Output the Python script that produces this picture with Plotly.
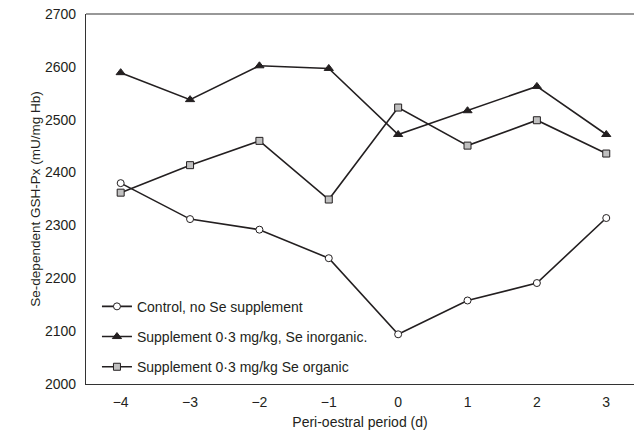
import plotly.graph_objects as go

days = [-4, -3, -2, -1, 0, 1, 2, 3]
control = [2380, 2312, 2292, 2238, 2094, 2158, 2191, 2314]
inorganic = [2589, 2538, 2602, 2597, 2472, 2517, 2563, 2472]
organic = [2362, 2414, 2460, 2349, 2523, 2451, 2499, 2436]

names = ["Control, no Se supplement",
         "Supplement 0·3 mg/kg, Se inorganic.",
         "Supplement 0·3 mg/kg Se organic"]
tick_text = ["\u22124", "\u22123", "\u22122", "\u22121", "0", "1", "2", "3"]
y_ticks = [2000, 2100, 2200, 2300, 2400, 2500, 2600, 2700]

line_col = "#231f20"
fig = go.Figure()
fig.add_trace(go.Scatter(x=days, y=control, name=names[0], mode="lines+markers",
                         legendgroup="a",
                         line=dict(color=line_col, width=1.6),
                         marker=dict(symbol="circle", size=7, color="white",
                                     line=dict(color=line_col, width=1))))
fig.add_trace(go.Scatter(x=days, y=inorganic, name=names[1], mode="lines+markers",
                         legendgroup="b",
                         line=dict(color=line_col, width=1.6),
                         marker=dict(symbol="triangle-up", size=8, color=line_col,
                                     line=dict(color=line_col, width=1))))
fig.add_trace(go.Scatter(x=days, y=organic, name=names[2], mode="lines+markers",
                         legendgroup="c",
                         line=dict(color=line_col, width=1.6),
                         marker=dict(symbol="square", size=7, color="#c0c0c0",
                                     line=dict(color=line_col, width=1))))

fig.update_layout(
    width=635, height=436,
    margin=dict(l=86, r=1, t=14, b=52, autoexpand=False),
    paper_bgcolor="white", plot_bgcolor="white",
    font=dict(family="Liberation Sans, Arial, sans-serif", size=14, color="#231f20"),
    legend=dict(x=0.02, y=0.252, xanchor="left", yanchor="top",
                bgcolor="rgba(0,0,0,0)", traceorder="grouped",
                tracegroupgap=9, font=dict(size=14)),
    xaxis=dict(range=[-4.5, 3.4], tickvals=days, ticktext=tick_text,
               showgrid=False, zeroline=False, showline=True, linecolor="#333",
               linewidth=1.2, ticks="", ticklabelstandoff=5, ticklabeloverflow="allow",
               title=dict(text="Peri-oestral period (d)", standoff=8, font=dict(size=14))),
    yaxis=dict(range=[2000, 2700], tickvals=y_ticks,
               showgrid=False, zeroline=False, showline=True, linecolor="#333",
               linewidth=1.2, ticks="", ticklabelstandoff=6, ticklabeloverflow="allow",
               title=dict(text="Se-dependent GSH-Px (mU/mg Hb)", standoff=1, font=dict(size=13.5))),
    shapes=[dict(type="line", xref="paper", yref="paper", x0=0, x1=1, y0=1, y1=1,
                 line=dict(color="#333", width=1.2))],
)

fig.write_html("out.html", config={"displayModeBar": False},
               post_script="document.body.style.margin='0';")
